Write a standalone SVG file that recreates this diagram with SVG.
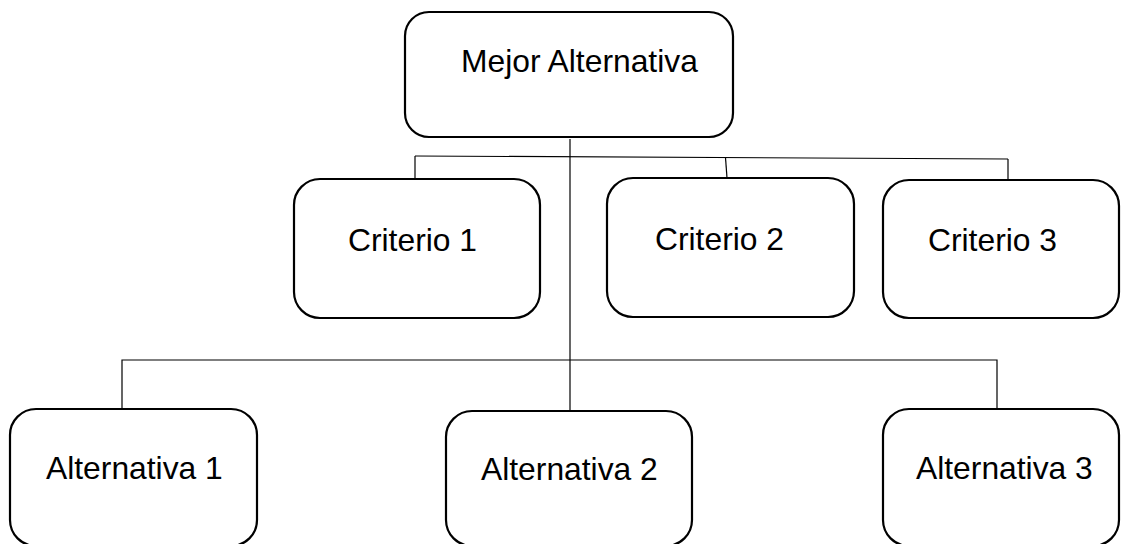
<svg xmlns="http://www.w3.org/2000/svg" width="1121" height="544" viewBox="0 0 1121 544">
<style>
.box{fill:#fff;stroke:#000;stroke-width:2.2}
.lbl{font-family:"Liberation Sans",Arial,sans-serif;font-size:31.8px;fill:#000}
.con{stroke:#000;stroke-width:1.2;fill:none}
</style>
<rect width="1121" height="544" fill="#fff"/>
<g id="connectors">
<line class="con" x1="570" y1="139" x2="570" y2="411"/>
<line class="con" x1="415" y1="156" x2="1008" y2="159"/>
<line class="con" x1="415" y1="156" x2="415" y2="179"/>
<line class="con" x1="725.5" y1="157.5" x2="727" y2="178"/>
<line class="con" x1="1008" y1="159" x2="1008" y2="180"/>
<polyline class="con" points="122,409 122,360 997,360 997,409"/>
</g>
<g id="n0"><rect class="box" x="405" y="12" width="328" height="125" rx="24"/><text class="lbl" x="461" y="72">Mejor Alternativa</text></g>
<g id="c1"><rect class="box" x="294" y="179" width="246" height="139" rx="26"/><text class="lbl" x="348" y="251">Criterio 1</text></g>
<g id="c2"><rect class="box" x="607" y="178" width="247" height="139" rx="26"/><text class="lbl" x="655" y="250">Criterio 2</text></g>
<g id="c3"><rect class="box" x="883" y="180" width="236" height="138" rx="26"/><text class="lbl" x="928" y="251">Criterio 3</text></g>
<g id="a1"><rect class="box" x="10" y="409" width="247" height="137" rx="26"/><text class="lbl" x="46" y="479">Alternativa 1</text></g>
<g id="a2"><rect class="box" x="446" y="411" width="246" height="135" rx="26"/><text class="lbl" x="481" y="480">Alternativa 2</text></g>
<g id="a3"><rect class="box" x="883" y="409" width="236" height="137" rx="26"/><text class="lbl" x="916" y="479">Alternativa 3</text></g>
</svg>
